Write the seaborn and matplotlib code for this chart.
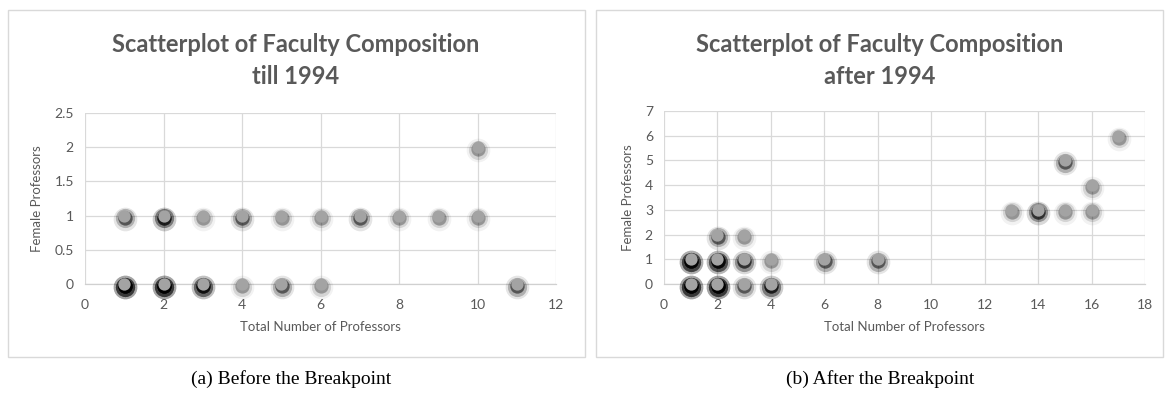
import numpy as np
import pandas as pd
import matplotlib
matplotlib.use("Agg")
import matplotlib.pyplot as plt
import matplotlib.transforms as mtransforms
from matplotlib.patches import Rectangle
import seaborn as sns

# ---- data: (total professors, female professors, number of overlapping observations)
before_total = [1, 2, 3, 4, 5, 6, 11, 1, 2, 3, 4, 5, 6, 7, 8, 9, 10, 10]
before_female = [0, 0, 0, 0, 0, 0, 0, 1, 1, 1, 1, 1, 1, 1, 1, 1, 1, 2]
before_count = [8, 8, 5, 1, 2, 1, 2, 2, 4, 1, 2, 1, 1, 2, 1, 1, 1, 1]

after_total = [1, 2, 3, 4, 1, 2, 3, 4, 6, 8, 2, 3, 13, 14, 15, 16, 16, 15, 17]
after_female = [0, 0, 0, 0, 1, 1, 1, 1, 1, 1, 2, 2, 3, 3, 3, 3, 4, 5, 6]
after_count = [8, 8, 2, 4, 7, 6, 3, 1, 2, 2, 2, 1, 1, 3, 1, 1, 1, 2, 1]

titles = ["Scatterplot of Faculty Composition\ntill 1994",
          "Scatterplot of Faculty Composition\nafter 1994"]
captions = ["(a) Before the Breakpoint", "(b) After the Breakpoint"]
xticks_list = [[0, 2, 4, 6, 8, 10, 12], [0, 2, 4, 6, 8, 10, 12, 14, 16, 18]]
yticks_list = [[0, 0.5, 1, 1.5, 2, 2.5], [0, 1, 2, 3, 4, 5, 6, 7]]
ytick_labels = [["0", "0.5", "1", "1.5", "2", "2.5"], ["0", "1", "2", "3", "4", "5", "6", "7"]]
xlabel = "Total Number of Professors"
ylabel = "Female Professors"

sns.set_style("white")
plt.rcParams['font.family'] = ['Lato', 'DejaVu Sans']

fig = plt.figure(figsize=(11.68, 4.01), dpi=100)

ax_pos = [[85/1168, 1-284/401, 471/1168, 171/401],
          [664/1168, 1-284/401, 481/1168, 173/401]]
boxes = [[8/1168, 1-357/401, 577/1168, 347/401],
         [596/1168, 1-357/401, 567/1168, 347/401]]
title_x = [296/1168, 880/1168]
caption_x = [291/1168, 880/1168]

grid_c = "#d9d9d9"
text_c = "#595959"
dot_c = "#a3a3a3"

datasets = [(before_total, before_female, before_count),
            (after_total, after_female, after_count)]

for i, (xt, yf, cnt) in enumerate(datasets):
    fig.patches.append(Rectangle((boxes[i][0], boxes[i][1]), boxes[i][2], boxes[i][3],
                                 transform=fig.transFigure, fill=False,
                                 edgecolor="#d9d9d9", linewidth=1.0, zorder=0))
    ax = fig.add_axes(ax_pos[i])
    df = pd.DataFrame({"x": xt, "y": yf, "n": cnt})
    rep = df.loc[df.index.repeat(df["n"])].reset_index(drop=True)

    sh_out = mtransforms.offset_copy(ax.transData, fig=fig, x=0.3, y=-3.0, units='dots')
    sh_mid = mtransforms.offset_copy(ax.transData, fig=fig, x=0.3, y=-2.5, units='dots')
    sh_core = mtransforms.offset_copy(ax.transData, fig=fig, x=0.3, y=-2.0, units='dots')
    # soft shadow layers (overlapping observations -> darker shadow)
    sns.scatterplot(data=rep, x="x", y="y", ax=ax, s=290, color="black", alpha=0.05,
                    linewidth=0, transform=sh_out, zorder=3, legend=False)
    sns.scatterplot(data=rep, x="x", y="y", ax=ax, s=190, color="black", alpha=0.12,
                    linewidth=0, transform=sh_mid, zorder=3, legend=False)
    sns.scatterplot(data=rep, x="x", y="y", ax=ax, s=105, color="black", alpha=0.3,
                    linewidth=0, transform=sh_core, zorder=3, legend=False)
    # gray markers
    sns.scatterplot(data=df, x="x", y="y", ax=ax, s=78, color=dot_c, alpha=1,
                    linewidth=0, zorder=4, legend=False)

    ax.set_xlim(xticks_list[i][0], xticks_list[i][-1])
    ax.set_ylim(yticks_list[i][0], yticks_list[i][-1])
    ax.set_xticks(xticks_list[i])
    ax.set_yticks(yticks_list[i])
    ax.set_yticklabels(ytick_labels[i])
    ax.grid(True, color=grid_c, linewidth=0.9)
    ax.set_axisbelow(True)
    for s in ["top", "right", "left"]:
        ax.spines[s].set_visible(False)
    ax.spines["bottom"].set_color("#d0d0d0")
    ax.spines["bottom"].set_linewidth(0.9)
    ax.tick_params(axis="x", length=0, labelsize=10, labelcolor=text_c, pad=11)
    ax.tick_params(axis="y", length=0, labelsize=10, labelcolor=text_c, pad=8)
    ax.set_xlabel(xlabel, fontsize=9.5, color=text_c, labelpad=7)
    ax.set_ylabel(ylabel, fontsize=9.5, color=text_c, labelpad=8)
    for sp in ax.collections:
        sp.set_clip_on(False)

    fig.text(title_x[i], 1-60.5/401, titles[i], ha="center", va="center",
             fontsize=17, fontweight="bold", color=text_c, linespacing=1.5)
    fig.text(caption_x[i], 1-379/401, captions[i], ha="center", va="center",
             fontsize=14, color="black", family=["Liberation Serif", "DejaVu Serif"])

fig.savefig("out.png", dpi=100)
